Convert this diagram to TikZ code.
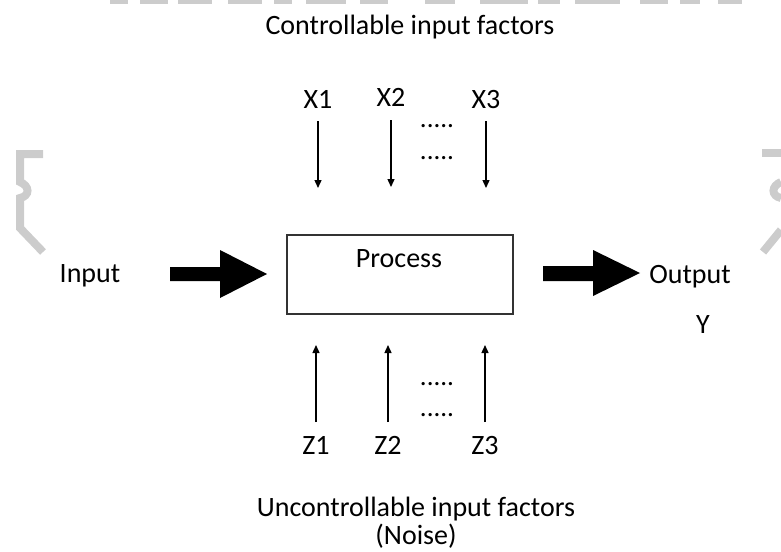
\documentclass[tikz,border=0pt]{standalone}
\usepackage{fontspec}
\setmainfont{Carlito}
\usetikzlibrary{arrows.meta}
\definecolor{wm}{RGB}{204,204,204}
\tikzset{
  lbl/.style={anchor=base, inner sep=0pt, font=\fontsize{28}{32}\selectfont},
  thinarrow/.style={line width=1.4pt, -{Triangle[length=8pt,width=7pt]}},
  bigarrow/.style={fill=black, draw=none},
  dotlbl/.style={anchor=base, inner sep=0pt, font=\fontsize{27}{32}\selectfont},
  wmline/.style={draw=wm, line width=8pt},
  wmstrip/.style={fill=wm, draw=none}
}
\begin{document}
\begin{tikzpicture}[x=1pt,y=-1pt]
\useasboundingbox (0,0) rectangle (781,551);
% watermark remnants at top
\foreach \a/\b in {110/128,140/168,178/212,228/262,274/292,306/346,360/388,425/455,480/528,538/560,575/620,640/668,680/700,718/742}
  \fill[wmstrip] (\a,0) rectangle (\b,4);
% watermark-like brackets
\draw[wmline, line join=miter] (43,154) -- (20,154) -- (20,182) .. controls (30,186) and (30,196) .. (20,198) -- (20,228) -- (43,252);
\draw[wmline, line join=miter] (762,153) -- (781,153);
\draw[wmline] (781,182) .. controls (771,186) and (771,196) .. (781,198);
\draw[wmline] (781,230) -- (763,252);
% top labels
\node[lbl] (ctl) at (410,35) {Controllable input factors};
\node[lbl] (x1) at (318,108) {X1};
\node[lbl] (x2) at (391,106) {X2};
\node[lbl] (x3) at (486,108) {X3};
\node[dotlbl] (d1) at (437,127) {.....};
\node[dotlbl] (d2) at (437,159) {.....};
% process box
\node[draw=black!80, line width=1.3pt, minimum width=226pt, minimum height=79pt, inner sep=0pt] (proc) at (400,274.5) {};
\node[lbl] (ptxt) at (399,267) {Process};
% side labels
\node[lbl] (in) at (90,282) {Input};
\node[lbl] (out) at (690,283) {Output};
\node[lbl] (y) at (703,333) {Y};
% input arrows
\coordinate (x1s) at (318,121); \coordinate (x1e) at (318,188);
\coordinate (x2s) at (391,120); \coordinate (x2e) at (391,187);
\coordinate (x3s) at (486,121); \coordinate (x3e) at (486,188);
\draw[thinarrow] (x1s) -- (x1e);
\draw[thinarrow] (x2s) -- (x2e);
\draw[thinarrow] (x3s) -- (x3e);
% noise arrows
\coordinate (z1s) at (316,422); \coordinate (z1e) at (316,345);
\coordinate (z2s) at (388,422); \coordinate (z2e) at (388,345);
\coordinate (z3s) at (485,422); \coordinate (z3e) at (485,345);
\draw[thinarrow] (z1s) -- (z1e);
\draw[thinarrow] (z2s) -- (z2e);
\draw[thinarrow] (z3s) -- (z3e);
\node[dotlbl] (d3) at (437,385) {.....};
\node[dotlbl] (d4) at (437,416) {.....};
\node[lbl] (z1) at (316,454) {Z1};
\node[lbl] (z2) at (388,454) {Z2};
\node[lbl] (z3) at (485,454) {Z3};
\node[lbl] (unc) at (416,516) {Uncontrollable input factors};
\node[lbl] (noise) at (416,544) {(Noise)};
% big arrows
\fill[bigarrow] (170,267) -- (220,267) -- (220,250) -- (267,274) -- (220,298) -- (220,281) -- (170,281) -- cycle;
\fill[bigarrow] (543,266) -- (593,266) -- (593,250) -- (640,273) -- (593,296) -- (593,281) -- (543,281) -- cycle;
\end{tikzpicture}
\end{document}
